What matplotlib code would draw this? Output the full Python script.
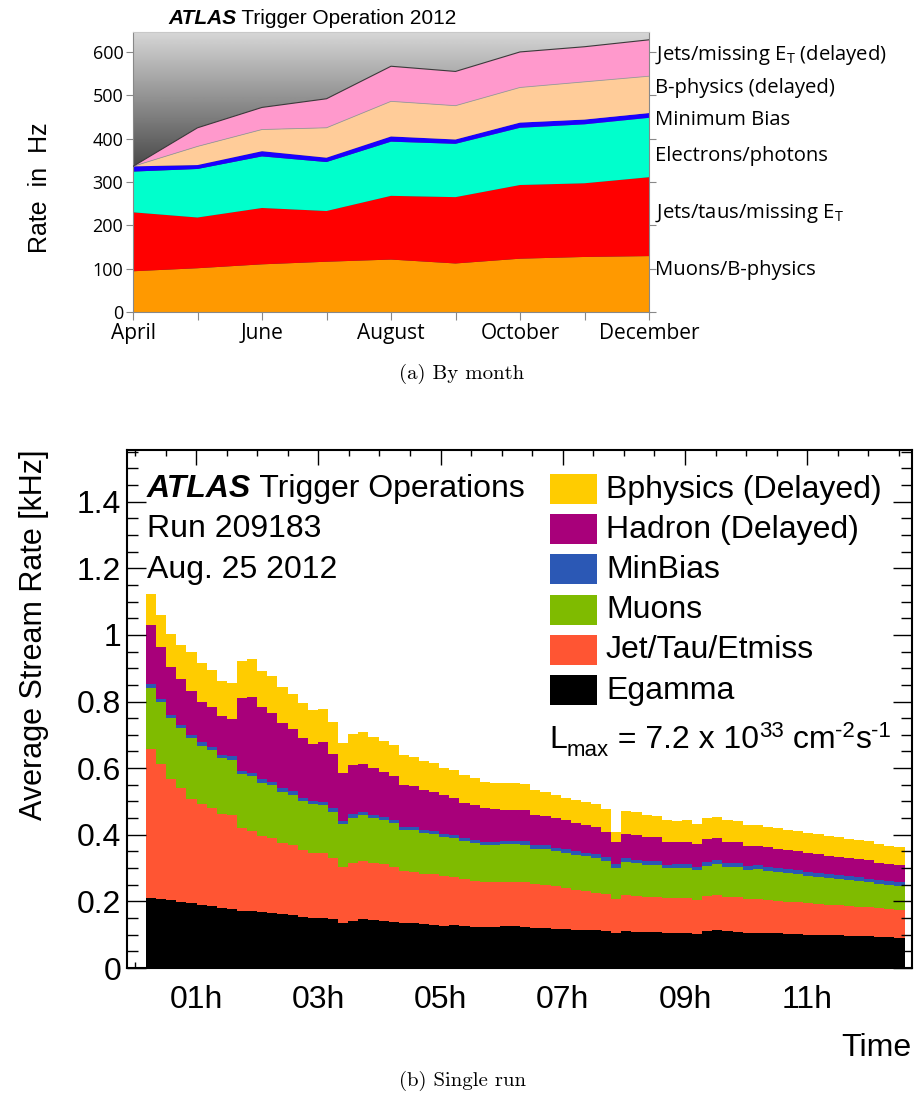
import numpy as np
import matplotlib
matplotlib.use("Agg")
import matplotlib.pyplot as plt
from matplotlib.patches import Rectangle
import matplotlib.transforms as mtransforms
from matplotlib.ticker import MultipleLocator, FuncFormatter

plt.rcParams['font.family'] = ['Liberation Sans', 'DejaVu Sans']
plt.rcParams['mathtext.default'] = 'regular'

# ---------------- (a) By month ----------------
months = ["April", "May", "June", "July", "August", "September",
          "October", "November", "December"]
month_tick_labels = ["April", "", "June", "", "August", "", "October", "", "December"]
muons_bphys   = [94, 101, 110, 116, 121, 112, 123, 127, 129]
jets_taus_met = [136, 117, 130, 117, 147, 153, 170, 170, 182]
electrons_ph  = [94, 112, 119, 113, 125, 123, 132, 136, 137]
minimum_bias  = [12, 9, 12, 10, 12, 10, 12, 11, 11]
bphys_delayed = [0, 43, 50, 69, 81, 78, 81, 87, 85]
jets_met_delayed = [0, 43, 51, 67, 81, 79, 82, 81, 84]
labels_a = ["Muons/B-physics", "Jets/taus/missing E$_T$", "Electrons/photons",
            "Minimum Bias", "B-physics (delayed)", "Jets/missing E$_T$ (delayed)"]
colors_a = ["#ff9900", "#ff0000", "#00ffcc", "#1a00ff", "#ffcc99", "#ff99cc"]

# ---------------- (b) Single run ----------------
first_bin_hour = 0.18
bin_minutes = 9.93
hour_ticks = [1, 3, 5, 7, 9, 11]
hour_tick_labels = ["01h", "03h", "05h", "07h", "09h", "11h"]

egamma = [.211, .208, .204, .199, .194, .189, .186, .181, .177, .172,
          .170, .167, .164, .161, .158, .153, .150, .149, .146, .135,
          .140, .147, .143, .142, .138, .134, .134, .131, .130, .127,
          .128, .125, .123, .122, .124, .125, .125, .124, .121, .120,
          .118, .117, .115, .114, .113, .112, .104, .110, .109, .108,
          .107, .106, .106, .105, .101, .110, .113, .110, .109, .106,
          .105, .104, .104, .102, .101, .100, .100, .099, .098, .097,
          .097, .096, .094, .092, .090]
jet_tau_etmiss = [.445, .405, .364, .341, .314, .302, .293, .280, .281, .247,
                  .241, .229, .225, .215, .211, .201, .196, .197, .185, .169,
                  .176, .174, .172, .169, .166, .157, .155, .152, .151, .148,
                  .144, .141, .139, .135, .134, .134, .134, .134, .130, .129,
                  .127, .124, .120, .117, .113, .110, .102, .109, .108, .106,
                  .107, .103, .103, .105, .102, .105, .106, .104, .104, .102,
                  .102, .100, .098, .097, .096, .094, .092, .091, .091, .090,
                  .087, .086, .085, .085, .083]
muons = [.185, .186, .181, .180, .183, .176, .175, .170, .167, .164,
         .164, .160, .159, .153, .151, .147, .145, .144, .138, .127,
         .135, .137, .134, .132, .130, .123, .124, .122, .121, .119,
         .117, .114, .113, .111, .110, .112, .112, .112, .107, .107,
         .105, .105, .105, .104, .104, .100, .093, .098, .097, .095,
         .095, .090, .091, .090, .090, .092, .093, .090, .091, .087,
         .089, .087, .085, .086, .086, .082, .082, .079, .078, .077,
         .077, .075, .074, .073, .073]
minbias = [.012, .010, .010, .009, .009, .010, .010, .009, .011, .008,
           .010, .010, .010, .010, .011, .010, .010, .009, .010, .010,
           .010, .010, .010, .010, .009, .010, .010, .009, .009, .009,
           .010, .009, .010, .009, .009, .010, .010, .010, .011, .012,
           .010, .010, .010, .010, .012, .011, .012, .012, .011, .011,
           .011, .010, .011, .011, .011, .011, .012, .012, .011, .012,
           .012, .012, .012, .012, .012, .012, .011, .012, .011, .011,
           .011, .011, .011, .011, .011]
hadron_delayed = [.176, .155, .146, .139, .131, .123, .119, .115, .111, .220,
                  .228, .217, .208, .197, .187, .180, .172, .178, .162, .145,
                  .147, .144, .140, .135, .133, .125, .124, .120, .117, .115,
                  .111, .107, .104, .103, .100, .094, .094, .093, .089, .088,
                  .089, .088, .085, .085, .080, .076, .067, .072, .074, .073,
                  .072, .070, .067, .067, .067, .068, .065, .062, .063, .060,
                  .059, .060, .059, .057, .057, .057, .057, .056, .056, .055,
                  .055, .055, .052, .050, .051]
bphysics_delayed = [.094, .097, .098, .101, .117, .116, .112, .108, .108, .110,
                    .115, .110, .110, .107, .105, .104, .101, .100, .097, .088,
                    .093, .095, .093, .093, .092, .089, .086, .087, .087, .082,
                    .084, .082, .081, .079, .079, .079, .079, .078, .075, .072,
                    .069, .067, .069, .069, .069, .067, .030, .070, .069, .065,
                    .064, .064, .064, .065, .062, .065, .065, .065, .063, .062,
                    .062, .061, .061, .060, .060, .059, .059, .058, .059, .057,
                    .057, .057, .056, .056, .054]
streams_b = ["Egamma", "Jet/Tau/Etmiss", "Muons", "MinBias",
             "Hadron (Delayed)", "Bphysics (Delayed)"]
colors_b = ["#000000", "#ff5533", "#7fbb00", "#2b58b5", "#a8007a", "#ffcc00"]

W, H = 921, 1102
fig = plt.figure(figsize=(W / 100, H / 100), dpi=100)
renderer = fig.canvas.get_renderer()


def fx(px):
    return px / W


def fy(py):
    return 1 - py / H


# ======================= panel (a) =======================
ax1 = fig.add_axes([fx(133), fy(312), (649 - 133) / W, (312 - 32) / H])
x = np.arange(len(months))
ax1.set_xlim(0, len(months) - 1)
ax1.set_ylim(0, 646)

levels = np.linspace(646, 0, 400)[:, None]
gray = np.interp(levels, [330, 646], [0.28, 0.84])
ax1.imshow(gray, cmap="gray", vmin=0, vmax=1, extent=[0, len(months) - 1, 0, 646],
           aspect="auto", origin="upper", zorder=0, interpolation="bilinear")

series_a = [muons_bphys, jets_taus_met, electrons_ph, minimum_bias,
            bphys_delayed, jets_met_delayed]
ax1.stackplot(x, *series_a, colors=colors_a, linewidth=0, zorder=2)
cum_a = np.cumsum(np.array(series_a, dtype=float), axis=0)
ax1.plot(x, cum_a[4], color="#9a9a9a", lw=0.6, zorder=3)
ax1.plot(x, cum_a[5], color="#3a3a3a", lw=0.8, zorder=3)

ax1.set_xticks(x)
ax1.set_xticklabels(month_tick_labels, family="Open Sans", fontsize=15)
ax1.set_yticks(np.arange(0, 601, 100))
ax1.set_yticklabels([str(v) for v in range(0, 601, 100)], family="Open Sans", fontsize=13)
ax1.tick_params(axis="x", direction="out", length=6, color="#888888", pad=2)
ax1.tick_params(axis="y", direction="out", length=5, color="#888888", pad=2,
                right=True, labelright=False)
for side, sp in ax1.spines.items():
    sp.set_color("#888888" if side != "top" else "#c8c8c8")
    sp.set_linewidth(0.8)

label_y = [97, 228, 360, 443, 517, 593]
trans = mtransforms.blended_transform_factory(ax1.transAxes, ax1.transData)
for lab, yy in zip(labels_a, label_y):
    ax1.text(1.012, yy, lab, transform=trans, va="center", ha="left",
             family="Open Sans", fontsize=14.6)

t_atlas = fig.text(fx(168), fy(24), "ATLAS", fontsize=15, fontweight="bold",
                   fontstyle="italic", va="baseline")
fig.canvas.draw()
ax1.annotate(" Trigger Operation 2012", xy=(1, 0), xycoords=t_atlas,
             va="bottom", ha="left", fontsize=15, annotation_clip=False)

fig.text(fx(40), fy(188), "Rate  in  Hz", rotation=90, fontsize=18,
         ha="center", va="center")
fig.text(fx(462), fy(374), "(a) By month", family="cmr10", fontsize=15,
         ha="center", va="center")

# ======================= panel (b) =======================
ax2 = fig.add_axes([fx(127), fy(968), (911.7 - 127) / W, (968 - 450) / H])
n_bins = len(egamma)
edges = first_bin_hour + np.arange(n_bins + 1) * bin_minutes / 60.0
series_b = np.array([egamma, jet_tau_etmiss, muons, minbias,
                     hadron_delayed, bphysics_delayed], dtype=float)
cum_b = np.cumsum(series_b, axis=0)
for i in range(len(streams_b) - 1, -1, -1):
    ax2.stairs(cum_b[i], edges, baseline=0, fill=True, color=colors_b[i],
               linewidth=0, label=streams_b[i])

ax2.set_xlim(-0.13, 12.71)
ax2.set_ylim(0, 1.555)
ax2.set_xticks(hour_ticks)
ax2.set_xticklabels(hour_tick_labels, fontsize=23)
ax2.xaxis.set_minor_locator(MultipleLocator(0.5))
ax2.yaxis.set_major_locator(MultipleLocator(0.2))
ax2.yaxis.set_minor_locator(MultipleLocator(0.05))
ax2.yaxis.set_major_formatter(FuncFormatter(lambda v, p: f"{v:g}"))
ax2.tick_params(axis="x", which="major", direction="in", length=11, width=1,
                top=True, labelsize=23, pad=12)
ax2.tick_params(axis="x", which="minor", direction="in", length=4, width=1, top=True)
ax2.tick_params(axis="y", which="major", direction="in", length=14, width=1,
                right=True, labelsize=23, pad=4)
ax2.tick_params(axis="y", which="minor", direction="in", length=8, width=1, right=True)
for sp in ax2.spines.values():
    sp.set_linewidth(1.5)

ax2.set_ylabel("Average Stream Rate [kHz]", fontsize=22, loc="top")
ax2.yaxis.set_label_coords(-0.099, 1.0)
ax2.set_xlabel("Time", fontsize=23, loc="right")
ax2.xaxis.set_label_coords(1.0, -0.125)

# header text
t2 = fig.text(fx(147), fy(497), "ATLAS", fontsize=23, fontweight="bold",
              fontstyle="italic", va="baseline")
fig.canvas.draw()
ax2.annotate(" Trigger Operations", xy=(1, 0), xycoords=t2, va="bottom",
             ha="left", fontsize=23, annotation_clip=False)
fig.text(fx(147), fy(537), "Run 209183", fontsize=23, va="baseline")
fig.text(fx(147), fy(578), "Aug. 25 2012", fontsize=23, va="baseline")

# legend (top entry = last stacked stream)
for k, i in enumerate(range(len(streams_b) - 1, -1, -1)):
    yc = 489 + 40.2 * k
    fig.add_artist(Rectangle((fx(550), fy(yc + 15)), 47 / W, 30 / H,
                             transform=fig.transFigure, facecolor=colors_b[i],
                             edgecolor="none"))
    fig.text(fx(606), fy(yc + 8.5), streams_b[i], fontsize=23, va="baseline")

# luminosity line, built from pieces (ROOT-style sub/superscripts)
lumi_pieces = [("L", 23, 0), ("max", 16, 8), (" = 7.2 x 10", 23, 0), ("33", 16, -11),
               (" cm", 23, 0), ("-2", 16, -11), ("s", 23, 0), ("-1", 16, -11)]
xpos = 549.0
for txt, size, dy in lumi_pieces:
    t = fig.text(fx(xpos), fy(748 + dy), txt, fontsize=size, va="baseline")
    xpos += t.get_window_extent(renderer).width

fig.text(fx(462), fy(1081), "(b) Single run", family="cmr10", fontsize=15,
         ha="center", va="center")

fig.savefig("out.png", dpi=100)
